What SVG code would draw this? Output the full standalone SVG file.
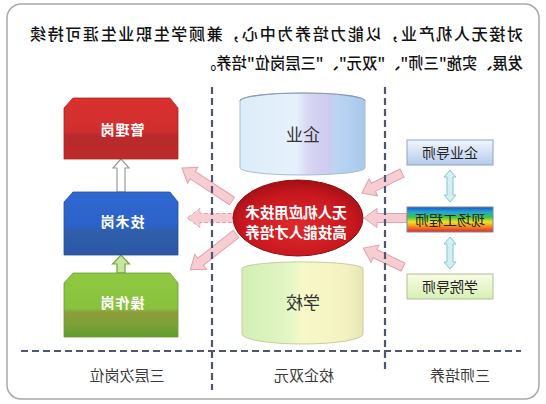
<svg xmlns="http://www.w3.org/2000/svg" width="546" height="404" viewBox="0 0 546 404">
<defs>
<style>
text{font-family:"Noto Sans CJK SC","Noto Sans",sans-serif}
.title{font-size:16px;fill:#111;font-weight:500}
.lbl{font-size:15px;fill:#3a3a3a;text-anchor:middle}
.box{font-size:14px;fill:#fff;font-weight:bold;text-anchor:middle;letter-spacing:1px}
.cyl{font-size:17px;fill:#333;text-anchor:middle}
.core{font-size:14.5px;fill:#fff;font-weight:bold;text-anchor:middle}
.tch{font-size:14px;fill:#222;text-anchor:middle}
.pink{fill:#f6cdd2;stroke:#e3a2aa;stroke-width:1}
.dash{stroke:#4f5670;stroke-width:2.2;stroke-dasharray:7 4;fill:none}
.dbl{fill:#d2f0f4;stroke:#8cc4cc;stroke-width:1}
</style>
<linearGradient id="gRed" x1="0" y1="0" x2="0" y2="1">
<stop offset="0" stop-color="#d8322f"/><stop offset="0.55" stop-color="#d02e2e"/><stop offset="0.62" stop-color="#b72a2b"/><stop offset="1" stop-color="#bf2a2b"/>
</linearGradient>
<linearGradient id="gBlue" x1="0" y1="0" x2="0" y2="1">
<stop offset="0" stop-color="#3068d2"/><stop offset="0.55" stop-color="#2c62c8"/><stop offset="0.62" stop-color="#2f5eaa"/><stop offset="1" stop-color="#2a58a6"/>
</linearGradient>
<linearGradient id="gGreen" x1="0" y1="0" x2="0" y2="1">
<stop offset="0" stop-color="#90c940"/><stop offset="0.55" stop-color="#88c23e"/><stop offset="0.62" stop-color="#8e9c3a"/><stop offset="0.8" stop-color="#7ca236"/><stop offset="1" stop-color="#5f9c30"/>
</linearGradient>
<linearGradient id="gTop" x1="0" y1="0" x2="1" y2="0">
<stop offset="0" stop-color="#dcecf9"/><stop offset="0.45" stop-color="#e6f1fb"/><stop offset="0.55" stop-color="#d8d6f2"/><stop offset="0.72" stop-color="#cccaf0"/><stop offset="0.76" stop-color="#bcd6f2"/><stop offset="1" stop-color="#a8c8ec"/>
</linearGradient>
<linearGradient id="gBot" x1="0" y1="0" x2="1" y2="0">
<stop offset="0" stop-color="#d2efb2"/><stop offset="0.4" stop-color="#e4f6c6"/><stop offset="0.5" stop-color="#f8f8c8"/><stop offset="0.85" stop-color="#f4f2c0"/><stop offset="1" stop-color="#e6e6b6"/>
</linearGradient>
<radialGradient id="gCore" cx="0.5" cy="0.6" r="0.6">
<stop offset="0" stop-color="#e02a2c"/><stop offset="0.7" stop-color="#c8181e"/><stop offset="1" stop-color="#a01016"/>
</radialGradient>
<linearGradient id="gT1" x1="0" y1="0" x2="0" y2="1">
<stop offset="0" stop-color="#f2f6fd"/><stop offset="1" stop-color="#b6caec"/>
</linearGradient>
<linearGradient id="gT2" x1="0" y1="0" x2="0" y2="1">
<stop offset="0" stop-color="#2050c0"/><stop offset="0.2" stop-color="#20a8d8"/><stop offset="0.4" stop-color="#40c048"/><stop offset="0.6" stop-color="#f0e424"/><stop offset="0.8" stop-color="#f08424"/><stop offset="1" stop-color="#e02424"/>
</linearGradient>
<linearGradient id="gT3" x1="0" y1="0" x2="0" y2="1">
<stop offset="0" stop-color="#fafce4"/><stop offset="1" stop-color="#d6efb6"/>
</linearGradient>
</defs>
<rect x="7" y="4" width="532" height="395" rx="14" fill="#fff" stroke="#a8a8a8" stroke-width="1.5"/>
<g id="title">
<text class="title" transform="matrix(-1 0 0 1 546 0)" x="23" y="40" textLength="493" lengthAdjust="spacing">对接无人机产业，以能力培养为中心，兼顾学生职业生涯可持续</text>
<text class="title" transform="matrix(-1 0 0 1 546 0)" x="23" y="69" textLength="322" lengthAdjust="spacingAndGlyphs">发展、实施"三师"、"双元"、"三层岗位"培养。</text>
</g>
<g id="connectors">
<path class="pink" transform="translate(232,201) rotate(-146.6)" d="M0,-4.5 H47 V-9.5 L60,0 L47,9.5 V4.5 H0 Z"/>
<path class="pink" transform="translate(238,218) rotate(180)" d="M0,-4.5 H38 V-9.5 L51,0 L38,9.5 V4.5 H0 Z" stroke="#777" stroke-dasharray="4 2"/>
<path class="pink" transform="translate(236,234) rotate(141.9)" d="M0,-4.5 H45 V-9.5 L58,0 L45,9.5 V4.5 H0 Z"/>
<path d="M117,192 V168 H113 L121,159 L129,168 H125 V192 Z" fill="#fff" stroke="#9a9a9a" stroke-width="1.2"/>
<path d="M117,273 V264 H112.5 L121,255 L129.5,264 H125 V273 Z" fill="#c6e6a0" stroke="#74a63c" stroke-width="1.2"/>
<path class="dbl" d="M450,170 L456,177 H453 V195 H456 L450,202 L444,195 H447 V177 H444 Z"/>
<path class="dbl" d="M450,237 L456,244 H453 V262 H456 L450,269 L444,262 H447 V244 H444 Z"/>
</g>
<g id="node-top-cyl">
<path d="M240,101 A62.5,8 0 0 1 365,101 V168 A62.5,7 0 0 1 240,168 Z" fill="url(#gTop)" stroke="#a8bcd4" stroke-width="1"/>
<path d="M240,101 A62.5,8 0 0 1 365,101" fill="none" stroke="#8a9ab8" stroke-width="1.2"/>
<text class="cyl" transform="matrix(-1 0 0 1 546 0)" x="243" y="141">企业</text>
</g>
<g id="node-bot-cyl">
<path d="M242,268 A61,7 0 0 1 363,268 V334 A60.5,10 0 0 1 242,334 Z" fill="url(#gBot)" stroke="#c8cca0" stroke-width="1"/>
<text class="cyl" transform="matrix(-1 0 0 1 546 0)" x="243" y="309">学校</text>
</g>
<g id="node-core">
<ellipse cx="298" cy="218" rx="65" ry="38" fill="url(#gCore)" stroke="#8e1014" stroke-width="1"/>
<text class="core" transform="matrix(-1 0 0 1 546 0)" x="250" y="218">无人机应用技术</text>
<text class="core" transform="matrix(-1 0 0 1 546 0)" x="250" y="238">高技能人才培养</text>
</g>
<g id="connectors-in">
<path class="pink" transform="translate(402,173) rotate(153.4)" d="M0,-4.5 H32 V-9.5 L45,0 L32,9.5 V4.5 H0 Z"/>
<path class="pink" transform="translate(407,218) rotate(180)" d="M0,-4.5 H30 V-9.5 L43,0 L30,9.5 V4.5 H0 Z"/>
<path class="pink" transform="translate(403,267) rotate(205.4)" d="M0,-4.5 H31 V-9.5 L44,0 L31,9.5 V4.5 H0 Z"/>
</g>
<g id="node-manage">
<path d="M73,98 H170 L178,108 V159 H64 V108 Z" fill="url(#gRed)" stroke="#a82424" stroke-width="0.8"/>
<text class="box" transform="matrix(-1 0 0 1 546 0)" x="424" y="135">管理岗</text>
</g>
<g id="node-tech">
<path d="M73,192 H170 L178,202 V255 H64 V202 Z" fill="url(#gBlue)" stroke="#23509c" stroke-width="0.8"/>
<text class="box" transform="matrix(-1 0 0 1 546 0)" x="424" y="227">技术岗</text>
</g>
<g id="node-op">
<path d="M73,273 H170 L178,283 V337 H64 V283 Z" fill="url(#gGreen)" stroke="#6a9a34" stroke-width="0.8"/>
<text class="box" transform="matrix(-1 0 0 1 546 0)" x="424" y="308">操作岗</text>
</g>
<g id="node-mentor-ent">
<rect x="407" y="140" width="86" height="25" fill="url(#gT1)" stroke="#8ea2c8" stroke-width="1"/>
<text class="tch" transform="matrix(-1 0 0 1 546 0)" x="96" y="158">企业导师</text>
</g>
<g id="node-engineer">
<rect x="407" y="207" width="86" height="25" fill="url(#gT2)" stroke="#7a8aa8" stroke-width="1"/>
<text class="tch" transform="matrix(-1 0 0 1 546 0)" x="96" y="225">现场工程师</text>
</g>
<g id="node-mentor-sch">
<rect x="407" y="274" width="86" height="25" fill="url(#gT3)" stroke="#b0c094" stroke-width="1"/>
<text class="tch" transform="matrix(-1 0 0 1 546 0)" x="96" y="292">学院导师</text>
</g>
<g id="dividers">
<line class="dash" x1="212" y1="87" x2="212" y2="390"/>
<line class="dash" x1="385" y1="87" x2="385" y2="372"/>
<line class="dash" x1="21" y1="351" x2="521" y2="351"/>
</g>
<g id="labels">
<text class="lbl" transform="matrix(-1 0 0 1 546 0)" x="419" y="381">三层次岗位</text>
<text class="lbl" transform="matrix(-1 0 0 1 546 0)" x="242" y="381">校企双元</text>
<text class="lbl" transform="matrix(-1 0 0 1 546 0)" x="86" y="381">三师培养</text>
</g>
</svg>
